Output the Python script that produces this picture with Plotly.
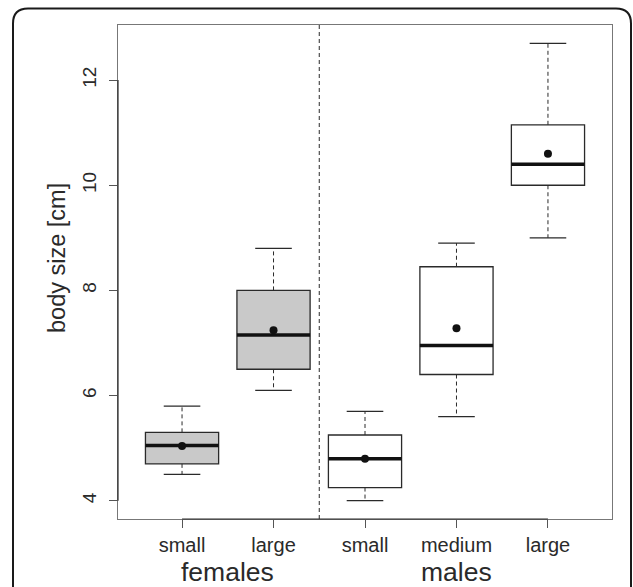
import plotly.graph_objects as go

# ---- data ----
groups = ["females", "females", "males", "males", "males"]
sizes = ["small", "large", "small", "medium", "large"]
lower = [4.5, 6.1, 4.0, 5.6, 9.0]
q1 = [4.7, 6.5, 4.25, 6.4, 10.0]
median = [5.05, 7.15, 4.8, 6.95, 10.4]
q3 = [5.3, 8.0, 5.25, 8.45, 11.15]
upper = [5.8, 8.8, 5.7, 8.9, 12.7]
mean = [5.04, 7.24, 4.8, 7.28, 10.6]
y_ticks = [4, 6, 8, 10, 12]

FILL = {"females": "#c9c9c9", "males": "#ffffff"}
INK = "#2a2a2a"
DASH = "4px,3px"
FONT = "Liberation Sans, Arial, Helvetica, sans-serif"

W, H = 633, 587
ML, MR, MT, MB = 118, 21, 25, 68
PW, PH = W - ML - MR, H - MT - MB

def px_x(p):
    return (p - ML) / PW

def px_y(p):
    return (H - MB - p) / PH

positions = list(range(1, len(sizes) + 1))
box_w = 0.8
cap_w = 0.4

fig = go.Figure()
for i, p in enumerate(positions):
    fig.add_trace(go.Box(
        x=[p], q1=[q1[i]], median=[median[i]], q3=[q3[i]],
        lowerfence=[q1[i]], upperfence=[q3[i]],
        width=box_w, whiskerwidth=0,
        fillcolor=FILL[groups[i]],
        line=dict(color=INK, width=1.3),
        boxpoints=False, showlegend=False, hoverinfo="skip",
    ))
    # dashed whiskers
    fig.add_trace(go.Scatter(
        x=[p, p, None, p, p], y=[q3[i], upper[i], None, q1[i], lower[i]],
        mode="lines", line=dict(color=INK, width=1, dash=DASH),
        showlegend=False, hoverinfo="skip",
    ))
    # caps
    fig.add_trace(go.Scatter(
        x=[p - cap_w / 2, p + cap_w / 2, None, p - cap_w / 2, p + cap_w / 2],
        y=[upper[i], upper[i], None, lower[i], lower[i]],
        mode="lines", line=dict(color=INK, width=1.2),
        showlegend=False, hoverinfo="skip",
    ))
    # thick median
    fig.add_trace(go.Scatter(
        x=[p - box_w / 2, p + box_w / 2], y=[median[i], median[i]],
        mode="lines", line=dict(color="#111111", width=3.5),
        showlegend=False, hoverinfo="skip",
    ))

# means
fig.add_trace(go.Scatter(
    x=positions, y=mean, mode="markers",
    marker=dict(color="#111111", size=8),
    showlegend=False, hoverinfo="skip",
))

# group separator and group labels
group_names = list(dict.fromkeys(groups))
group_pos = {g: [p for p, gg in zip(positions, groups) if gg == g] for g in group_names}
sep = (max(group_pos[group_names[0]]) + min(group_pos[group_names[1]])) / 2

shapes = [
    dict(type="line", xref="x", yref="paper", x0=sep, x1=sep, y0=0, y1=1,
         line=dict(color=INK, width=1, dash=DASH)),
    # darker axis segments (R axis lines)
    dict(type="line", xref="paper", yref="y", x0=0, x1=0, y0=y_ticks[0], y1=y_ticks[-1],
         line=dict(color=INK, width=1.2)),
    dict(type="line", xref="x", yref="paper", x0=positions[0], x1=positions[-1], y0=0, y1=0,
         line=dict(color=INK, width=1.2)),
]

# rounded outer frame
L, T, R_, B = 13, 8.5, 631, 600
r = 15
path = (f"M {px_x(L)},{px_y(B)} L {px_x(L)},{px_y(T + r)} "
        f"Q {px_x(L)},{px_y(T)} {px_x(L + r)},{px_y(T)} "
        f"L {px_x(R_ - r)},{px_y(T)} "
        f"Q {px_x(R_)},{px_y(T)} {px_x(R_)},{px_y(T + r)} "
        f"L {px_x(R_)},{px_y(B)}")
shapes.append(dict(type="path", xref="paper", yref="paper", path=path,
                   line=dict(color="#1a1a1a", width=2)))

annotations = []
for g in group_names:
    gp = group_pos[g]
    annotations.append(dict(
        x=sum(gp) / len(gp), xref="x", y=px_y(572), yref="paper",
        text=g, showarrow=False, xanchor="center", yanchor="middle",
        borderpad=0,
        font=dict(size=26.5, color=INK, family=FONT),
    ))
annotations.append(dict(
    x=px_x(57), xref="paper", y=px_y(258), yref="paper",
    text="body size [cm]", textangle=-90, showarrow=False,
    xanchor="center", yanchor="middle",
    font=dict(size=23.5, color=INK, family=FONT),
))

fig.update_layout(
    width=W, height=H,
    margin=dict(l=ML, r=MR, t=MT, b=MB, pad=0),
    paper_bgcolor="white", plot_bgcolor="white",
    boxmode="overlay",
    font=dict(family=FONT, color=INK),
    shapes=shapes, annotations=annotations,
    xaxis=dict(
        range=[0.3, 5.7], tickvals=positions, ticktext=sizes,
        ticks="outside", ticklen=8, tickcolor="#555555",
        showline=True, mirror=True, linecolor="#777777", linewidth=1,
        showgrid=False, zeroline=False,
        tickfont=dict(size=20, color=INK, family=FONT),
    ),
    yaxis=dict(
        range=[3.652, 13.048], tickvals=y_ticks,
        tickangle=-90, ticklabelstandoff=5,
        ticks="outside", ticklen=8, tickcolor="#555555",
        showline=True, mirror=True, linecolor="#777777", linewidth=1,
        showgrid=False, zeroline=False,
        tickfont=dict(size=19, color=INK, family=FONT),
    ),
)

fig.write_html("out.html")
